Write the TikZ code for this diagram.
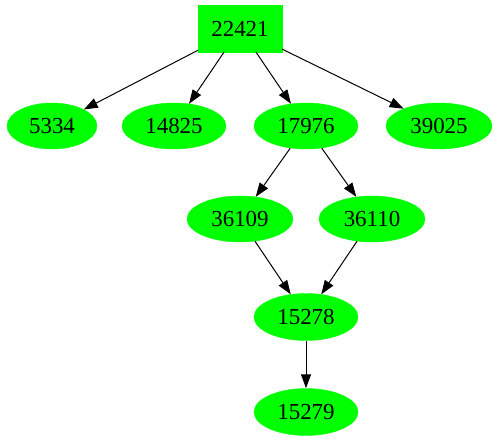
\documentclass[tikz,border=0pt]{standalone}
\usepackage{fontspec}
\setmainfont{Liberation Serif}
\usetikzlibrary{arrows.meta,shapes.geometric}
\definecolor{gvgreen}{RGB}{0,255,0}
\tikzset{
  every node/.style={font=\fontsize{23}{27}\selectfont, inner sep=0pt},
  ell/.style={ellipse, fill=gvgreen, draw=gvgreen, minimum width=104bp, minimum height=46bp},
  boxnode/.style={rectangle, fill=gvgreen, draw=gvgreen, minimum width=84bp, minimum height=47bp},
  edge/.style={draw=black, line width=1bp, -{Triangle[length=14bp,width=10bp]}}
}
\begin{document}
\begin{tikzpicture}[x=1bp,y=-1bp]
\useasboundingbox (0,0) rectangle (498,443);
\node[boxnode] (n22421) at (240,28.5) {22421};
\node[ell, minimum width=90bp] (n5334) at (52,126) {5334};
\node[ell] (n14825) at (174,126) {14825};
\node[ell] (n17976) at (306,126) {17976};
\node[ell, minimum width=106bp] (n39025) at (439,126) {39025};
\node[ell, minimum width=106bp] (n36109) at (240,219) {36109};
\node[ell, minimum width=106bp] (n36110) at (372,219) {36110};
\node[ell, minimum height=47bp] (n15278) at (306,317) {15278};
\node[ell, minimum height=47bp] (n15279) at (306,412) {15279};
\draw[edge] (n22421) -- (n5334);
\draw[edge] (n22421) -- (n14825);
\draw[edge] (n22421) -- (n17976);
\draw[edge] (n22421) -- (n39025);
\draw[edge] (n17976) -- (n36109);
\draw[edge] (n17976) -- (n36110);
\draw[edge] (n36109) -- (n15278);
\draw[edge] (n36110) -- (n15278);
\draw[edge] (n15278) -- (n15279);
\end{tikzpicture}
\end{document}
